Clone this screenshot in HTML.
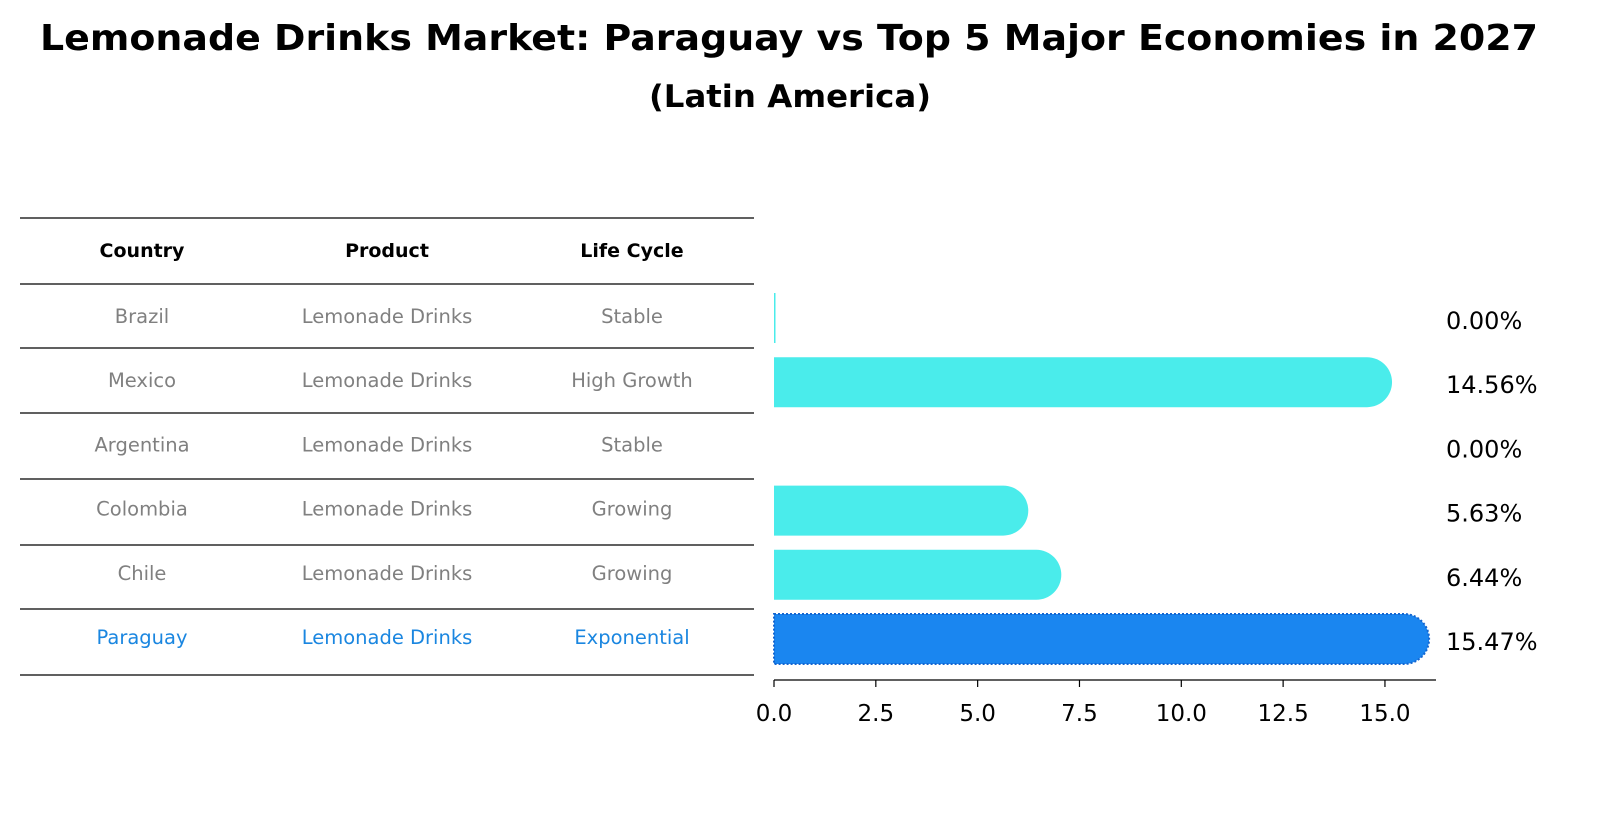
<!DOCTYPE html>
<html><head><meta charset="utf-8"><style>
body{margin:0;background:#fff;font-family:"Liberation Sans","DejaVu Sans",sans-serif;}
svg text{font-family:"DejaVu Sans","Liberation Sans",sans-serif;}
</style></head><body>
<svg id="chart" width="1604" height="823" xmlns="http://www.w3.org/2000/svg">
<text x="789" y="50" text-anchor="middle" font-size="36" font-weight="bold" textLength="1498" lengthAdjust="spacingAndGlyphs">Lemonade Drinks Market: Paraguay vs Top 5 Major Economies in 2027</text>
<text x="790" y="107" text-anchor="middle" font-size="31" font-weight="bold" textLength="282" lengthAdjust="spacingAndGlyphs">(Latin America)</text>
<g id="table"></g>
<g id="bars"></g>
<g id="axis"></g>
</svg>
<script>
const countries=["Brazil","Mexico","Argentina","Colombia","Chile","Paraguay"];
const products=["Lemonade Drinks","Lemonade Drinks","Lemonade Drinks","Lemonade Drinks","Lemonade Drinks","Lemonade Drinks"];
const lifeCycles=["Stable","High Growth","Stable","Growing","Growing","Exponential"];
const values=[0.00,14.56,0.00,5.63,6.44,15.47];
const xTicks=[0,2.5,5,7.5,10,12.5,15];
const NS="http://www.w3.org/2000/svg";
function mk(tag,attrs,parent){const e=document.createElementNS(NS,tag);for(const k in attrs)e.setAttribute(k,attrs[k]);parent.appendChild(e);return e;}
const x=v=>774+v*40.73;
const rowY=i=>318+i*64.2;
const table=document.getElementById('table');
const lineYs=[218,284,348,413,479,545,609,675];
lineYs.forEach(y=>{const l=mk('line',{x1:20,x2:754,y1:y,y2:y,stroke:'#000','stroke-width':1.2},table);

});
const colX=[142,387,632];
["Country","Product","Life Cycle"].forEach((h,j)=>{const t=mk('text',{x:colX[j],y:257,'text-anchor':'middle','font-size':19,'font-weight':'bold'},table);t.textContent=h;

});
countries.forEach((c,i)=>{const last=i===countries.length-1;const col=last?'#1a86e0':'#808080';
[c,products[i],lifeCycles[i]].forEach((v,j)=>{const t=mk('text',{x:colX[j],y:rowY(i)+5,'text-anchor':'middle','font-size':19.5,fill:col},table);t.textContent=v;

});});
const bars=document.getElementById('bars');
values.forEach((v,i)=>{const last=i===values.length-1;const yc=rowY(i);const h=50;const w=x(v)-x(0);
const fill=last?'#1a86f0':'#4aeceb';
if(w>0){const r=h/2;const d=`M${x(0)},${yc-r} H${x(v)} A${r},${r} 0 0 1 ${x(v)},${yc+r} H${x(0)} Z`;
const p=mk('path',{d:d,fill:fill},bars);
if(last){p.setAttribute('stroke','#1466d0');p.setAttribute('stroke-width','2');p.setAttribute('stroke-dasharray','2,2');}

}
else if(i===0){const p=mk('rect',{x:x(0),y:yc-h/2,width:1.5,height:h,fill:fill},bars);

}
const t=mk('text',{x:1446,y:yc+11,'font-size':24},bars);t.textContent=v.toFixed(2)+'%';

});
const axis=document.getElementById('axis');
const al=mk('line',{x1:774,x2:1436,y1:680,y2:680,stroke:'#000','stroke-width':1.2},axis);


xTicks.forEach(v=>{const tk=mk('line',{x1:x(v),x2:x(v),y1:680,y2:687,stroke:'#000','stroke-width':1.2},axis);


const t=mk('text',{x:x(v),y:721,'text-anchor':'middle','font-size':23},axis);t.textContent=v.toFixed(1);

});
</script>
</body></html>
